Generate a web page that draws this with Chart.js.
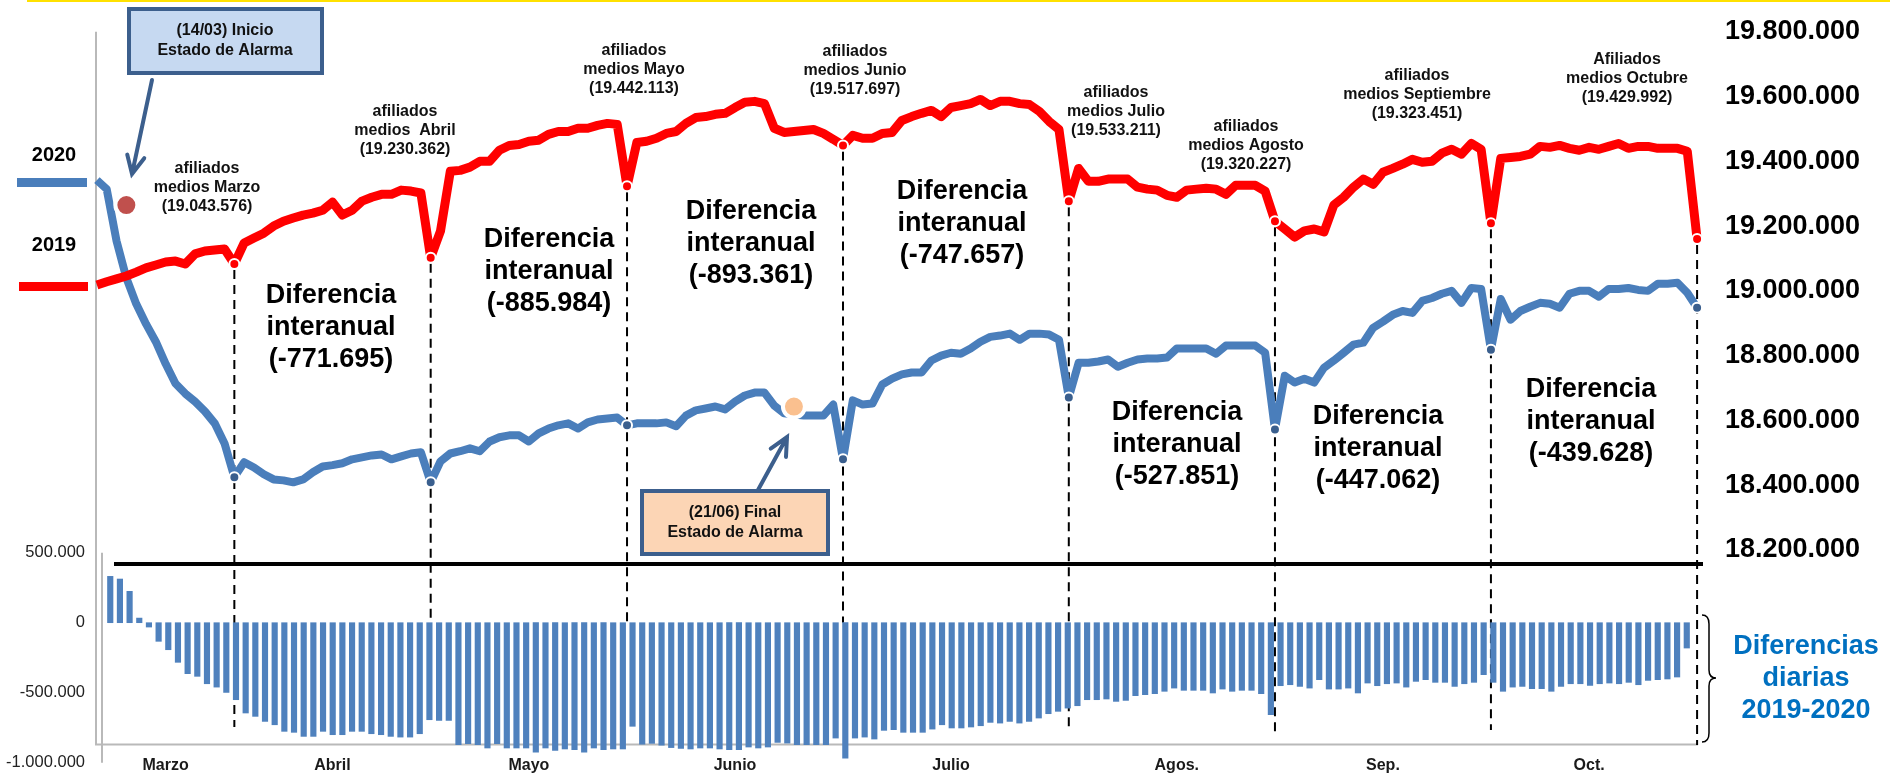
<!DOCTYPE html>
<html>
<head>
<meta charset="utf-8">
<script src="https://cdn.jsdelivr.net/npm/chart.js@4.4.1/dist/chart.umd.min.js"></script>
<style>
  html, body { margin: 0; padding: 0; background: #fff; }
  #wrap { width: 1890px; height: 774px; position: relative; }
</style>
</head>
<body>
<div id="wrap"><canvas id="chart"></canvas></div>
<script>
// ----------------------- DATOS -----------------------
// dias habiles por mes (11/03/2020 - 30/10/2020)
const diasMar = [11, 12, 13, 16, 17, 18, 19, 20, 23, 24, 25, 26, 27, 30, 31];
const diasAbr = [1, 2, 3, 6, 7, 8, 13, 14, 15, 16, 17, 20, 21, 22, 23, 24, 27, 28, 29, 30];
const diasMay = [4, 5, 6, 7, 8, 11, 12, 13, 14, 15, 18, 19, 20, 21, 22, 25, 26, 27, 28, 29];
const diasJun = [1, 2, 3, 4, 5, 8, 9, 10, 11, 12, 15, 16, 17, 18, 19, 22, 23, 24, 25, 26, 29, 30];
const diasJul = [1, 2, 3, 6, 7, 8, 9, 10, 13, 14, 15, 16, 17, 20, 21, 22, 23, 24, 27, 28, 29, 30, 31];
const diasAgo = [3, 4, 5, 6, 7, 10, 11, 12, 13, 14, 17, 18, 19, 20, 21, 24, 25, 26, 27, 28, 31];
const diasSep = [1, 2, 3, 4, 7, 8, 9, 10, 11, 14, 15, 16, 17, 18, 21, 22, 23, 24, 25, 28, 29, 30];
const diasOct = [1, 2, 5, 6, 7, 8, 9, 13, 14, 15, 16, 19, 20, 21, 22, 23, 26, 27, 28, 29, 30];

const meses = ["Marzo", "Abril", "Mayo", "Junio", "Julio", "Agos.", "Sep.", "Oct."];
const mesNum = ["03", "04", "05", "06", "07", "08", "09", "10"];
// dia (indice) donde va el nombre del mes
const mesEtiquetaIdx = [7, 24, 44, 65, 87, 110, 131, 152];

// afiliados diarios (miles)
const afiliados2019 = [
  19018, 19028, 19037, 19046, 19058, 19071, 19080, 19089, 19092, 19083, 19114, 19123, 19126, 19129, 19083,
  19148, 19163, 19178, 19200, 19215, 19225, 19234, 19240, 19249, 19274, 19234, 19249, 19277, 19289, 19298, 19298, 19311, 19308, 19302, 19102,
  19185, 19369, 19372, 19382, 19400, 19400, 19434, 19449, 19452, 19462, 19465, 19483, 19492, 19492, 19502, 19502, 19511, 19517, 19514, 19323,
  19458, 19462, 19471, 19486, 19492, 19517, 19535, 19538, 19545, 19548, 19566, 19582, 19585, 19578, 19502, 19489, 19492, 19495, 19498, 19486, 19468, 19449,
  19480, 19471, 19471, 19486, 19489, 19526, 19538, 19548, 19557, 19538, 19566, 19572, 19578, 19591, 19572, 19585, 19585, 19578, 19575, 19554, 19523, 19498, 19277,
  19378, 19338, 19338, 19345, 19345, 19345, 19320, 19314, 19311, 19295, 19289, 19311, 19314, 19317, 19314, 19298, 19326, 19326, 19326, 19308, 19215,
  19191, 19166, 19185, 19191, 19182, 19265, 19289, 19320, 19345, 19329, 19366, 19378, 19391, 19406, 19397, 19400, 19425, 19437, 19422, 19455, 19437, 19209,
  19409, 19412, 19415, 19422, 19446, 19443, 19449, 19440, 19434, 19443, 19437, 19446, 19455, 19440, 19446, 19446, 19440, 19440, 19440, 19431, 19160
];
const afiliados2020 = [
  19342, 19314, 19154, 19040, 18960, 18898, 18843, 18775, 18714, 18683, 18658, 18628, 18591, 18529, 18425,
  18471, 18455, 18434, 18418, 18415, 18409, 18418, 18440, 18458, 18462, 18468, 18480, 18486, 18492, 18495, 18480, 18489, 18498, 18502, 18409,
  18474, 18498, 18505, 18514, 18505, 18535, 18548, 18554, 18554, 18535, 18560, 18575, 18585, 18591, 18575, 18594, 18603, 18606, 18609, 18585,
  18591, 18591, 18591, 18594, 18582, 18615, 18631, 18637, 18643, 18634, 18658, 18677, 18686, 18686, 18646, 18622, 18618, 18615, 18615, 18615, 18649, 18480,
  18662, 18649, 18652, 18711, 18729, 18742, 18748, 18748, 18785, 18800, 18809, 18806, 18822, 18843, 18858, 18862, 18868, 18849, 18868, 18868, 18865, 18849, 18671,
  18778, 18778, 18782, 18788, 18766, 18778, 18788, 18791, 18791, 18794, 18822, 18822, 18822, 18822, 18806, 18831, 18831, 18831, 18831, 18809, 18572,
  18738, 18717, 18729, 18717, 18763, 18785, 18809, 18834, 18840, 18886, 18905, 18926, 18938, 18932, 18969, 18978, 18991, 19000, 18963, 19009, 19006, 18818,
  18975, 18911, 18938, 18951, 18963, 18960, 18948, 18991, 19000, 19000, 18982, 19006, 19006, 19009, 19003, 19000, 19022, 19022, 19025, 18994, 18948
];
// diferencias diarias 2019-2020 (miles)
const diferencias = [
  331, 312, 224, 33, -31, -133, -193, -283, -364, -383, -436, -460, -498, -550, -645,
  -669, -705, -729, -776, -783, -812, -812, -776, -800, -800, -776, -776, -793, -800, -812, -817, -817, -793, -693, -698,
  -698, -871, -864, -871, -895, -864, -895, -895, -895, -924, -895, -912, -902, -907, -924, -895, -907, -902, -902, -740,
  -868, -862, -875, -892, -898, -902, -895, -895, -902, -907, -907, -888, -895, -888, -855, -860, -871, -871, -871, -871, -824, -967,
  -824, -817, -831, -769, -764, -783, -783, -783, -760, -729, -752, -752, -745, -736, -712, -717, -705, -717, -705, -681, -650, -633, -610,
  -593, -550, -550, -545, -562, -555, -521, -514, -507, -490, -467, -483, -483, -483, -502, -474, -490, -483, -483, -507, -657,
  -450, -443, -455, -467, -407, -474, -474, -467, -502, -431, -450, -436, -431, -460, -419, -407, -426, -426, -455, -436, -426, -371,
  -426, -490, -460, -455, -471, -471, -490, -455, -436, -436, -448, -436, -431, -436, -426, -443, -412, -407, -402, -388, -181
];

const lineTicks = [18200, 18400, 18600, 18800, 19000, 19200, 19400, 19600, 19800];
const barTicks = [-1000, -500, 0, 500];

// medias mensuales y diferencia interanual
const mediasMes = [
  ["afiliados", "medios Marzo", "(19.043.576)"],
  ["afiliados", "medios  Abril", "(19.230.362)"],
  ["afiliados", "medios Mayo", "(19.442.113)"],
  ["afiliados", "medios Junio", "(19.517.697)"],
  ["afiliados", "medios Julio", "(19.533.211)"],
  ["afiliados", "medios Agosto", "(19.320.227)"],
  ["afiliados", "medios Septiembre", "(19.323.451)"],
  ["Afiliados", "medios Octubre", "(19.429.992)"]
];
const difInteranual = ["(-771.695)", "(-885.984)", "(-893.361)", "(-747.657)", "(-527.851)", "(-447.062)", "(-439.628)"];

// hitos del estado de alarma
const inicioAlarma = { x: "16/03", y: 19265 };
const finAlarma = { x: "23/06", y: 18643 };
// fin de cada linea discontinua (eje barras)
const finDiscontinua = [-745, 0, 0, 0, -766, -816, -766, -874];
const sueloPanel = 18157; // linea negra de separacion (eje lineas)
const sueloBarras = -870;  // eje gris de las barras

// ----------------------- UTIL -----------------------
const listasDias = [diasMar, diasAbr, diasMay, diasJun, diasJul, diasAgo, diasSep, diasOct];
const fechas = [];
const finMes = [];
listasDias.forEach((dias, m) => {
  dias.forEach((d) => fechas.push(String(d).padStart(2, "0") + "/" + mesNum[m]));
  finMes.push(fechas.length - 1);
});

function miles(v) {
  const n = Math.round(v * 1000);
  const s = String(Math.abs(n)).replace(/\B(?=(\d{3})+(?!\d))/g, ".");
  return (n < 0 ? "-" : "") + s;
}

// sin relleno automatico de Chart.js alrededor de las etiquetas
function sinPadding(s) {
  s.paddingTop = 0;
  s.paddingBottom = 0;
  s.paddingLeft = 0;
  s.paddingRight = 0;
}

const FONT = "'Liberation Sans', Arial, sans-serif";

function texto(ctx, lines, x, y, lh, font, color) {
  ctx.font = font;
  ctx.fillStyle = color;
  ctx.textAlign = "center";
  ctx.textBaseline = "middle";
  lines.forEach((l, i) => ctx.fillText(l, x, y + i * lh));
}

function flecha(ctx, x0, y0, x1, y1) {
  const ang = Math.atan2(y1 - y0, x1 - x0);
  const L = 20, a = 0.45;
  ctx.beginPath();
  ctx.moveTo(x0, y0);
  ctx.lineTo(x1, y1);
  ctx.moveTo(x1 - L * Math.cos(ang - a), y1 - L * Math.sin(ang - a));
  ctx.lineTo(x1, y1);
  ctx.lineTo(x1 - L * Math.cos(ang + a), y1 - L * Math.sin(ang + a));
  ctx.stroke();
}

// ----------------------- PLUGIN DECORACION -----------------------
const decor = {
  id: "decor",
  beforeDatasetsDraw(chart) {
    const { ctx, chartArea: a, scales: { x, yLine, yBar } } = chart;
    ctx.save();
    // linea amarilla superior
    ctx.fillStyle = "#ffe100";
    ctx.fillRect(27, 0, chart.width - 27, 2);

    // marco gris
    ctx.strokeStyle = "#b9b9b9";
    ctx.lineWidth = 2;
    const yTop = yLine.getPixelForValue(lineTicks[lineTicks.length - 1]);
    const yFloor = yBar.getPixelForValue(sueloBarras);
    ctx.beginPath();
    ctx.moveTo(a.left + 4, yTop);
    ctx.lineTo(a.left + 4, yFloor);
    ctx.lineTo(a.right - 4, yFloor);
    ctx.moveTo(a.left + 10, yBar.getPixelForValue(barTicks[barTicks.length - 1]));
    ctx.lineTo(a.left + 10, yBar.getPixelForValue(barTicks[0]));
    ctx.stroke();

    // separador negro entre paneles
    ctx.strokeStyle = "#000";
    ctx.lineWidth = 4;
    const ySep = yLine.getPixelForValue(sueloPanel);
    ctx.beginPath();
    ctx.moveTo(a.left + 22, ySep);
    ctx.lineTo(a.right + 1, ySep);
    ctx.stroke();

    // lineas discontinuas de fin de mes
    ctx.lineWidth = 2;
    ctx.setLineDash([9, 6]);
    finMes.forEach((idx, k) => {
      const px = x.getPixelForValue(idx);
      ctx.beginPath();
      ctx.moveTo(px, yLine.getPixelForValue(afiliados2019[idx]) + 6);
      ctx.lineTo(px, yBar.getPixelForValue(finDiscontinua[k]));
      ctx.stroke();
    });
    ctx.restore();
  },
  afterDatasetsDraw(chart) {
    const { ctx } = chart;
    ctx.save();

    // leyenda izquierda
    ctx.fillStyle = "#4a7ebb";
    ctx.fillRect(17, 178, 70, 9);
    ctx.fillStyle = "#ff0000";
    ctx.fillRect(19, 282, 69, 9);
    texto(ctx, ["2020"], 54, 155, 0, "bold 20px " + FONT, "#000");
    texto(ctx, ["2019"], 54, 245, 0, "bold 20px " + FONT, "#000");

    // afiliados medios
    const posMedias = [[207, 169], [405, 112], [634, 51], [855, 52], [1116, 93], [1246, 127], [1417, 76], [1627, 60]];
    mediasMes.forEach((l, i) => texto(ctx, l, posMedias[i][0], posMedias[i][1], 18.7, "bold 16px " + FONT, "#111"));

    // diferencia interanual
    const posDif = [[331, 296], [549, 240], [751, 212], [962, 192], [1177, 413], [1378, 417], [1591, 390]];
    difInteranual.forEach((d, i) =>
      texto(ctx, ["Diferencia", "interanual", d], posDif[i][0], posDif[i][1], 32, "bold 27px " + FONT, "#000"));

    // cajas estado de alarma
    ctx.lineWidth = 4;
    ctx.strokeStyle = "#3c5f8d";
    ctx.fillStyle = "#c6d9f1";
    ctx.fillRect(129, 9, 193, 64);
    ctx.strokeRect(129, 9, 193, 64);
    texto(ctx, ["(14/03) Inicio", "Estado de Alarma"], 225, 31, 19.5, "bold 16px " + FONT, "#111");
    ctx.fillStyle = "#fcd5b5";
    ctx.fillRect(642, 491, 186, 63);
    ctx.strokeRect(642, 491, 186, 63);
    texto(ctx, ["(21/06) Final", "Estado de Alarma"], 735, 513, 19.5, "bold 16px " + FONT, "#111");

    ctx.strokeStyle = "#3c5f8d";
    ctx.lineWidth = 4;
    ctx.lineCap = "round";
    flecha(ctx, 152, 80, 132, 174);
    flecha(ctx, 758, 490, 787, 437);

    // llave y titulo del panel inferior
    ctx.strokeStyle = "#000";
    ctx.lineWidth = 1.5;
    ctx.lineCap = "butt";
    ctx.beginPath();
    ctx.moveTo(1702, 615);
    ctx.quadraticCurveTo(1709, 615, 1709, 624);
    ctx.lineTo(1709, 670);
    ctx.quadraticCurveTo(1709, 678, 1716, 678);
    ctx.quadraticCurveTo(1709, 678, 1709, 686);
    ctx.lineTo(1709, 733);
    ctx.quadraticCurveTo(1709, 742, 1702, 742);
    ctx.stroke();
    texto(ctx, ["Diferencias", "diarias", "2019-2020"], 1806, 647, 32, "bold 27px " + FONT, "#0070c0");
    ctx.restore();
  }
};

// ----------------------- GRAFICO -----------------------
new Chart(document.getElementById("chart"), {
  type: "bar",
  data: {
    labels: fechas,
    datasets: [
      {
        type: "line",
        data: [inicioAlarma],
        yAxisID: "yLine",
        showLine: false,
        pointRadius: 11,
        pointBackgroundColor: "#c0504d",
        pointBorderColor: "#fff",
        pointBorderWidth: 4,
        order: 0
      },
      {
        type: "line",
        data: [finAlarma],
        yAxisID: "yLine",
        showLine: false,
        pointRadius: 11,
        pointBackgroundColor: "#fac08f",
        pointBorderColor: "#fff",
        pointBorderWidth: 4,
        order: 0
      },
      {
        type: "line",
        label: "2019",
        data: afiliados2019,
        yAxisID: "yLine",
        borderColor: "#ff0000",
        borderWidth: 9,
        borderJoinStyle: "round",
        tension: 0,
        pointRadius: (c) => (finMes.includes(c.dataIndex) ? 5 : 0),
        pointBackgroundColor: "#ff0000",
        pointBorderColor: "#fff",
        pointBorderWidth: 2,
        order: 1
      },
      {
        type: "line",
        label: "2020",
        data: afiliados2020,
        yAxisID: "yLine",
        borderColor: "#4a7ebb",
        borderWidth: 8,
        borderJoinStyle: "round",
        tension: 0,
        pointRadius: (c) => (finMes.includes(c.dataIndex) ? 5 : 0),
        pointBackgroundColor: "#3a5f8e",
        pointBorderColor: "#fff",
        pointBorderWidth: 2,
        order: 2
      },
      {
        label: "Diferencias",
        data: diferencias.map((v, i) => ({ x: i, y: v })),
        xAxisID: "xBar",
        yAxisID: "yBar",
        backgroundColor: "#4f81bd",
        barThickness: 5.5,
        clip: false,
        order: 3
      }
    ]
  },
  options: {
    responsive: true,
    maintainAspectRatio: false,
    animation: false,
    layout: { autoPadding: false, padding: { top: 10, bottom: 0, left: 0, right: 0 } },
    plugins: { legend: { display: false }, tooltip: { enabled: false } },
    scales: {
      x: {
        offset: true,
        grid: { display: false, drawTicks: false },
        border: { display: false },
        ticks: {
          autoSkip: false,
          maxRotation: 0,
          padding: 0,
          color: "#1a1a1a",
          font: { family: FONT, size: 16, weight: "bold" },
          callback: (v, i) => {
            const k = mesEtiquetaIdx.indexOf(i);
            return k >= 0 ? meses[k] : "";
          }
        },
        afterFit: (s) => { s.height = 18; sinPadding(s); }
      },
      // las barras van sobre su propia escala, algo mas estrecha que la de las lineas
      xBar: {
        type: "linear",
        display: false,
        offset: false,
        min: -1.603,
        max: 164.86
      },
      yBar: {
        position: "left",
        min: -952.1,
        max: 4376.4,
        grid: { display: false, drawTicks: false },
        border: { display: false },
        afterBuildTicks: (s) => { s.ticks = barTicks.map((v) => ({ value: v })); },
        ticks: {
          padding: 7,
          color: "#222",
          font: { family: FONT, size: 16.5 },
          callback: (v) => miles(v)
        },
        afterFit: (s) => { s.width = 92; sinPadding(s); }
      },
      yLine: {
        position: "right",
        min: 17564.2,
        max: 19867,
        grid: { display: false, drawTicks: false },
        border: { display: false },
        afterBuildTicks: (s) => { s.ticks = lineTicks.map((v) => ({ value: v })); },
        ticks: {
          padding: 23,
          color: "#000",
          font: { family: FONT, size: 27, weight: "bold" },
          callback: (v) => miles(v)
        },
        afterFit: (s) => { s.width = 188; sinPadding(s); }
      }
    }
  },
  plugins: [decor]
});
</script>
</body>
</html>
